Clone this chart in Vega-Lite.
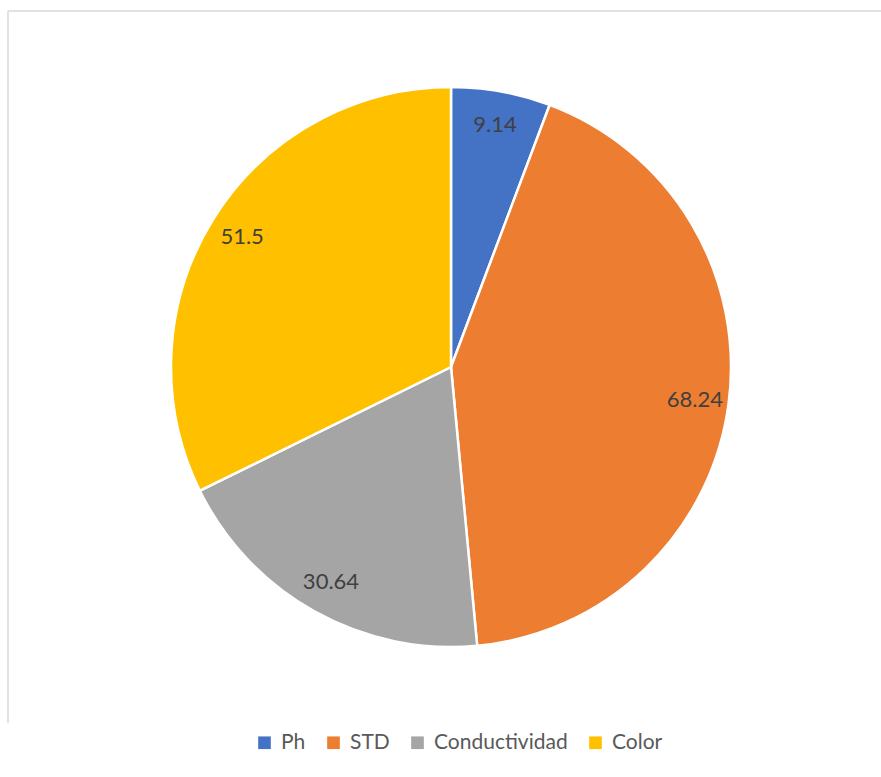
{
  "$schema": "https://vega.github.io/schema/vega-lite/v6.json",
  "width": 886,
  "height": 712,
  "padding": {"left": 8, "top": 11, "right": 0, "bottom": 0},
  "autosize": {"type": "pad"},
  "background": "white",
  "view": {"stroke": "#d9d9d9", "strokeWidth": 1.5, "strokeDash": [886, 1598, 712, 0]},
  "config": {
    "font": "Lato"
  },
  "data": {
    "values": [
      {"cat": "Ph", "val": 9.14, "ord": 1},
      {"cat": "STD", "val": 68.24, "ord": 2},
      {"cat": "Conductividad", "val": 30.64, "ord": 3},
      {"cat": "Color", "val": 51.5, "ord": 4}
    ]
  },
  "encoding": {
    "theta": {"field": "val", "type": "quantitative", "stack": true},
    "order": {"field": "ord", "type": "quantitative"},
    "color": {
      "field": "cat",
      "type": "nominal",
      "scale": {
        "domain": ["Ph", "STD", "Conductividad", "Color"],
        "range": ["#4472C4", "#ED7D31", "#A5A5A5", "#FFC000"]
      },
      "legend": {
        "orient": "none",
        "legendX": 246,
        "legendY": 721,
        "direction": "horizontal",
        "title": null,
        "symbolType": "square",
        "symbolSize": 160,
        "symbolStrokeWidth": 0,
        "labelFont": "Lato",
        "labelFontSize": 21,
        "labelColor": "#595959",
        "columnPadding": 17,
        "symbolOffset": 0,
        "labelOffset": 6
      }
    }
  },
  "layer": [
    {"mark": {"type": "arc", "outerRadius": 280, "stroke": "white", "strokeWidth": 2.5}},
    {
      "mark": {"type": "text", "radius": 246, "fontSize": 22, "font": "Lato"},
      "encoding": {"text": {"field": "val", "type": "nominal"}, "color": {"value": "#404040"}}
    }
  ]
}
